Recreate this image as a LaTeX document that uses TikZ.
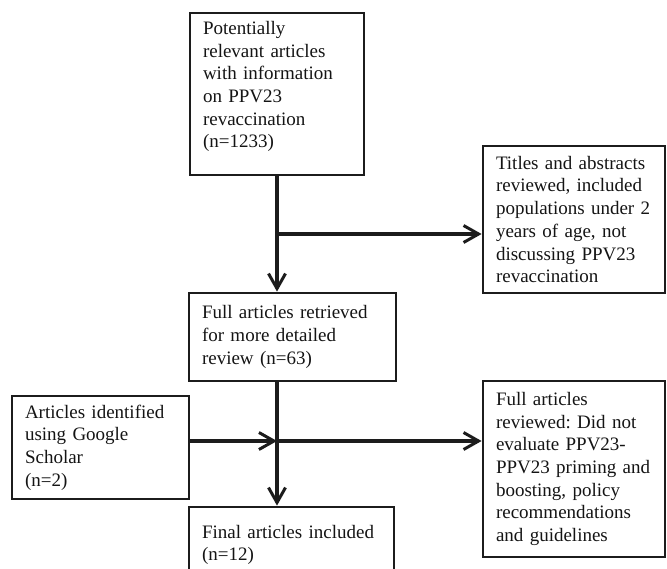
\documentclass[tikz,border=0pt]{standalone}
\usepackage{fontspec}
\setmainfont{Liberation Serif}
\usetikzlibrary{arrows.meta}
\usepackage{xcolor}
\definecolor{cLine}{RGB}{28,28,28}
\definecolor{cText}{RGB}{20,20,20}
\frenchspacing
\tikzset{
  boxn/.style ={draw=cLine,line width=2.8pt,rectangle,align=left,text=cText,
                font=\fontsize{19}{22.7}\selectfont,inner xsep=13pt,inner ysep=0pt},
  ed/.style   ={-{Straight Barb[length=15pt,width=17pt,line width=3pt]},
                draw=cLine,line width=3.6pt},
}

\begin{document}
\begin{tikzpicture}[x=1pt,y=-1pt]
\useasboundingbox (0,0) rectangle (667,568);
\clip (0,0) rectangle (667,568);

\node[boxn,minimum width=174pt,minimum height=162pt,text width=148pt] (pool) at (277,94)
 {Potentially\\relevant articles\\with information\\on PPV23\\revaccination\\(n=1233)\rule[-19pt]{0pt}{19pt}};

\node[boxn,minimum width=182pt,minimum height=147pt,text width=156pt] (screen) at (574,219.5)
 {Titles and abstracts\\reviewed, included\\populations under 2\\years of age, not\\discussing PPV23\\revaccination};

\node[boxn,minimum width=207pt,minimum height=88pt,text width=181pt] (full) at (292.5,337)
 {Full articles retrieved\\for more detailed\\review (n=63)};

\node[boxn,minimum width=177pt,minimum height=103pt,text width=151pt] (scholar) at (100.5,447.5)
 {Articles identified\\using Google\\Scholar\\(n=2)};

\node[boxn,minimum width=182pt,minimum height=176pt,text width=156pt] (excl) at (574,469)
 {Full articles\\reviewed: Did not\\evaluate PPV23-\\PPV23 priming and\\boosting, policy\\recommendations\\and guidelines};

\node[boxn,minimum width=205pt,minimum height=76pt,text width=179pt] (final) at (291.5,545)
 {Final articles included\\(n=12)};

\coordinate (j1) at (277,234);
\coordinate (j2) at (277,441);

\draw[ed] (pool.south) -- (pool.south |- full.north);
\draw[ed] (j1) -- (j1 -| screen.west);
\draw[ed] (pool.south |- full.south) -- (pool.south |- final.north);
\draw[ed] (scholar.east |- j2) -- (j2);
\draw[ed] (j2) -- (j2 -| excl.west);

\end{tikzpicture}
\end{document}
